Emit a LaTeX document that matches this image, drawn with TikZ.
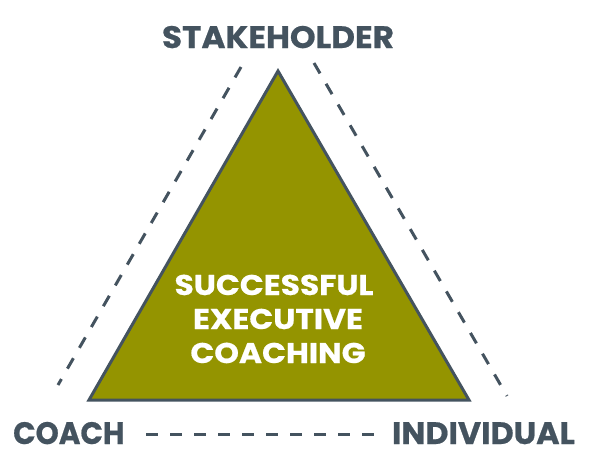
\documentclass[tikz,border=0pt]{standalone}
\usepackage{fontspec}
\setmainfont{Poppins}
\newfontfamily\labfont[FakeStretch=1.055, FakeBold=0.6]{Poppins}
\newfontfamily\coachfont[FakeStretch=0.95, FakeBold=0.6]{Poppins}
\newfontfamily\indivfont[FakeStretch=1.027, FakeBold=0.6]{Poppins}
\newfontfamily\midfont[FakeStretch=1.10, FakeBold=0.6]{Poppins}
\definecolor{olive}{HTML}{949400}
\definecolor{slate}{HTML}{44535F}
\begin{document}
\begin{tikzpicture}[x=1pt,y=-1pt,
  lab/.style={font=\fontsize{31}{31}\selectfont\bfseries, text=slate, inner sep=0pt},
  mid/.style={font=\midfont\fontsize{28.5}{28.5}\selectfont\bfseries, text=white, inner sep=0pt, anchor=base},
  dashline/.style={draw=slate, line width=3pt, dash pattern=on 12pt off 12pt}]
\useasboundingbox (0,0) rectangle (600,464);
% triangle
\coordinate (top) at (278,71);
\coordinate (bl) at (89,400);
\coordinate (br) at (469,400);
\filldraw[fill=olive, draw=slate, line width=3pt, line join=miter] (top) -- (bl) -- (br) -- cycle;
% labels
\node[lab, anchor=base] (stake) at (278,48) {\labfont\bfseries STAKEHOLDER};
\node[lab, anchor=base west] (coach) at (13,444) {\coachfont\bfseries COACH};
\node[lab, anchor=base east] (indiv) at (575,444) {\indivfont\bfseries INDIVIDUAL};
% center text
\node[mid] (l1) at (274,295) {SUCCESSFUL};
\node[mid] (l2) at (278,329) {EXECUTIVE};
\node[mid] (l3) at (278,363) {COACHING};
% dashed connectors
\coordinate (la) at (241,67);
\coordinate (lb) at (58,385);
\coordinate (ra) at (314,63);
\coordinate (rb) at (507,396);
\coordinate (ba) at (146,434);
\coordinate (bb) at (378,434);
\draw[dashline] (la) -- (lb);
\draw[dashline] (ra) -- (rb);
\draw[dashline] (ba) -- (bb);
\end{tikzpicture}
\end{document}
